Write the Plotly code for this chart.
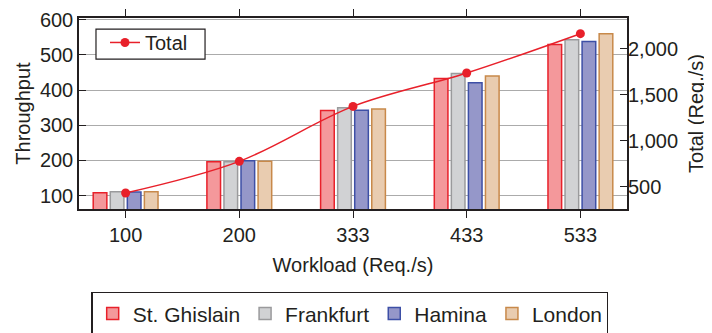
import plotly.graph_objects as go

categories = ["100", "200", "333", "433", "533"]
st_ghislain = [108, 196, 342, 433, 530]
frankfurt = [111, 196, 350, 447, 543]
hamina = [110, 199, 343, 421, 538]
london = [111, 198, 346, 440, 560]
total = [435, 778, 1374, 1736, 2163]

series = [
    ("St. Ghislain", st_ghislain, "#f4989b", "#e8202a"),
    ("Frankfurt", frankfurt, "#d1d2d4", "#9a9a9c"),
    ("Hamina", hamina, "#9597c9", "#3d4fa6"),
    ("London", london, "#e9ccb0", "#c8894a"),
]

FONT = "Liberation Sans, Arial, Helvetica, sans-serif"
TXT = "#231f20"

fig = go.Figure()
for name, vals, fill, border in series:
    fig.add_trace(go.Bar(
        x=categories, y=vals, name=name,
        marker=dict(color=fill, line=dict(color=border, width=1.5)),
        legend="legend", hoverinfo="skip",
    ))

fig.add_trace(go.Scatter(
    x=categories, y=total, name="Total", yaxis="y2",
    mode="lines+markers", line=dict(color="#e8202a", width=1.5, shape="spline"),
    marker=dict(color="#e8202a", size=9), legend="legend2", hoverinfo="skip",
))

# frame of the inner "Total" legend box
fig.add_shape(
    type="rect", xref="paper", yref="paper",
    x0=0.031, x1=0.230, y0=0.785, y1=0.942,
    line=dict(color="#231f20", width=1.2), fillcolor="white", layer="above",
)

fig.update_layout(
    width=712, height=333,
    margin=dict(l=71, r=93, t=10, b=132, autoexpand=False),
    paper_bgcolor="white", plot_bgcolor="white",
    font=dict(family=FONT, size=20, color=TXT),
    barmode="group", bargap=0.4, bargroupgap=0.2,
    xaxis=dict(
        type="category", range=[-0.41, 4.41],
        showline=True, linecolor="#231f20", linewidth=1.5, mirror="ticks",
        ticks="outside", ticklen=7, tickwidth=1, tickcolor="#231f20",
        title=dict(text="Workload (Req./s)", standoff=13, font=dict(size=20)),
        showgrid=False, tickfont=dict(size=20),
    ),
    yaxis=dict(
        range=[62, 605], tickvals=[100, 200, 300, 400, 500, 600],
        showline=True, linecolor="#231f20", linewidth=1.5, mirror=True,
        ticks="inside", ticklen=7, tickcolor="#231f20",
        showgrid=True, gridcolor="#ababab", gridwidth=1,
        title=dict(text="Throughput", standoff=4, font=dict(size=20)), zeroline=False,
        tickfont=dict(size=20),
    ),
    yaxis2=dict(
        overlaying="y", side="right", range=[261, 2333],
        tickvals=[500, 1000, 1500, 2000], tickformat=",",
        ticks="inside", ticklen=7, tickcolor="#231f20",
        showgrid=False, zeroline=False, showline=False,
        title=dict(text="Total (Req./s)", standoff=11, font=dict(size=20)),
        tickfont=dict(size=20),
    ),
    legend=dict(
        orientation="h", x=0.4945, xanchor="center", y=-0.435, yanchor="top",
        bordercolor="#231f20", borderwidth=1.2, bgcolor="white",
        font=dict(size=21), itemwidth=30,
    ),
    legend2=dict(
        x=0.0474, xanchor="left", y=0.974, yanchor="top",
        borderwidth=0, bgcolor="rgba(0,0,0,0)",
        font=dict(size=20),
    ),
)

fig.write_html("out.html")
